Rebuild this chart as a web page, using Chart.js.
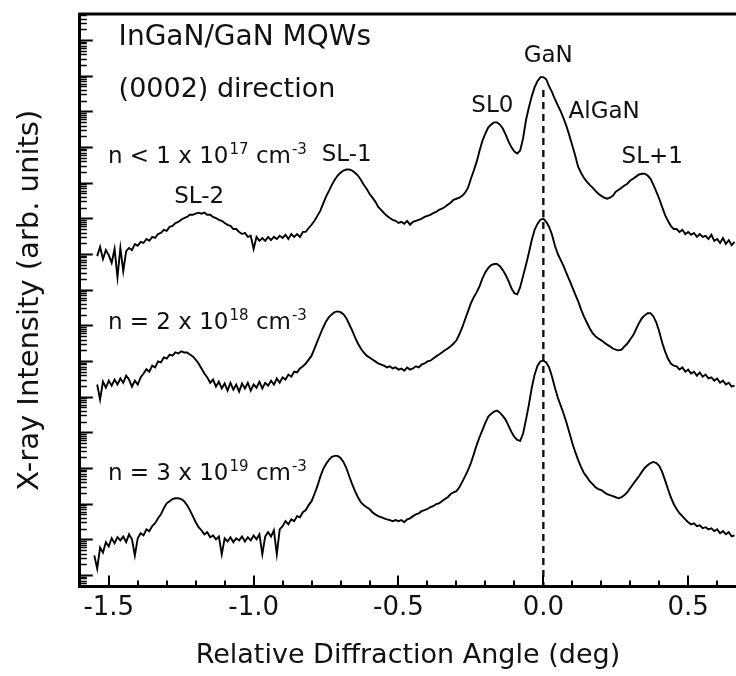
<!DOCTYPE html>
<html>
<head>
<meta charset="utf-8">
<title>XRD InGaN/GaN MQWs</title>
<script src="https://cdn.jsdelivr.net/npm/chart.js@4.4.0/dist/chart.umd.min.js"></script>
<style>
  body { margin: 0; background: #fff; }
  canvas { display: block; }
</style>
</head>
<body>
<canvas id="xrdChart" width="736" height="676"></canvas>
<script>
// Angulo relativo de difraccion (deg)
const angulos = [
  -1.55, -1.54, -1.53, -1.52, -1.51,
  -1.50, -1.49, -1.48, -1.47, -1.46, -1.45, -1.44, -1.43, -1.42, -1.41,
  -1.40, -1.39, -1.38, -1.37, -1.36, -1.35, -1.34, -1.33, -1.32, -1.31,
  -1.30, -1.29, -1.28, -1.27, -1.26, -1.25, -1.24, -1.23, -1.22, -1.21,
  -1.20, -1.19, -1.18, -1.17, -1.16, -1.15, -1.14, -1.13, -1.12, -1.11,
  -1.10, -1.09, -1.08, -1.07, -1.06, -1.05, -1.04, -1.03, -1.02, -1.01,
  -1.00, -0.99, -0.98, -0.97, -0.96, -0.95, -0.94, -0.93, -0.92, -0.91,
  -0.90, -0.89, -0.88, -0.87, -0.86, -0.85, -0.84, -0.83, -0.82, -0.81,
  -0.80, -0.79, -0.78, -0.77, -0.76, -0.75, -0.74, -0.73, -0.72, -0.71,
  -0.70, -0.69, -0.68, -0.67, -0.66, -0.65, -0.64, -0.63, -0.62, -0.61,
  -0.60, -0.59, -0.58, -0.57, -0.56, -0.55, -0.54, -0.53, -0.52, -0.51,
  -0.50, -0.49, -0.48, -0.47, -0.46, -0.45, -0.44, -0.43, -0.42, -0.41,
  -0.40, -0.39, -0.38, -0.37, -0.36, -0.35, -0.34, -0.33, -0.32, -0.31,
  -0.30, -0.29, -0.28, -0.27, -0.26, -0.25, -0.24, -0.23, -0.22, -0.21,
  -0.20, -0.19, -0.18, -0.17, -0.16, -0.15, -0.14, -0.13, -0.12, -0.11,
  -0.10, -0.09, -0.08, -0.07, -0.06, -0.05, -0.04, -0.03, -0.02, -0.01,
  0.00, 0.01, 0.02, 0.03, 0.04, 0.05, 0.06, 0.07, 0.08, 0.09,
  0.10, 0.11, 0.12, 0.13, 0.14, 0.15, 0.16, 0.17, 0.18, 0.19,
  0.20, 0.21, 0.22, 0.23, 0.24, 0.25, 0.26, 0.27, 0.28, 0.29,
  0.30, 0.31, 0.32, 0.33, 0.34, 0.35, 0.36, 0.37, 0.38, 0.39,
  0.40, 0.41, 0.42, 0.43, 0.44, 0.45, 0.46, 0.47, 0.48, 0.49,
  0.50, 0.51, 0.52, 0.53, 0.54, 0.55, 0.56, 0.57, 0.58, 0.59,
  0.60, 0.61, 0.62, 0.63, 0.64, 0.65, 0.66
];

// Intensidad en decadas (log10, unidades arbitrarias), n < 1e17 cm^-3
const curvaN17 = [
  null, 8.94, 9.20, 8.86, 9.11,
  8.97, 8.75, 9.14, 8.35, 9.17, 8.52, 9.08, 9.17, 9.11, 9.28,
  9.23, 9.34, 9.31, 9.42, 9.37, 9.48, 9.45, 9.56, 9.59, 9.68,
  9.65, 9.76, 9.79, 9.87, 9.90, 9.96, 10.01, 10.04, 10.10, 10.10,
  10.13, 10.16, 10.13, 10.16, 10.10, 10.10, 10.04, 10.01, 9.96, 9.93,
  9.87, 9.82, 9.79, 9.70, 9.70, 9.62, 9.56, 9.59, 9.48, 9.51,
  9.14, 9.48, 9.37, 9.45, 9.37, 9.48, 9.39, 9.48, 9.42, 9.51,
  9.45, 9.54, 9.42, 9.56, 9.48, 9.56, 9.48, 9.62, 9.62, 9.73,
  9.82, 9.93, 10.07, 10.21, 10.41, 10.61, 10.77, 10.94, 11.08, 11.20,
  11.28, 11.34, 11.37, 11.37, 11.34, 11.28, 11.20, 11.08, 10.94, 10.83,
  10.69, 10.58, 10.47, 10.32, 10.24, 10.15, 10.07, 10.01, 9.96, 9.93,
  9.87, 9.90, 9.85, 9.93, 9.82, 9.90, 9.93, 9.96, 9.99, 10.04,
  10.07, 10.10, 10.15, 10.18, 10.24, 10.27, 10.32, 10.38, 10.44, 10.52,
  10.55, 10.58, 10.63, 10.72, 10.86, 11.11, 11.34, 11.59, 11.90, 12.18,
  12.38, 12.55, 12.63, 12.69, 12.69, 12.63, 12.52, 12.35, 12.15, 11.99,
  11.87, 11.82, 11.90, 12.24, 12.75, 13.11, 13.42, 13.68, 13.85, 13.96,
  13.96, 13.90, 13.70, 13.54, 13.34, 13.17, 13.00, 12.80, 12.58, 12.32,
  12.04, 11.76, 11.45, 11.28, 11.14, 11.03, 10.94, 10.86, 10.77, 10.69,
  10.63, 10.58, 10.55, 10.58, 10.63, 10.75, 10.80, 10.86, 10.92, 10.97,
  11.06, 11.11, 11.17, 11.23, 11.25, 11.25, 11.20, 11.11, 10.94, 10.75,
  10.55, 10.32, 10.10, 9.93, 9.79, 9.70, 9.70, 9.62, 9.68, 9.56,
  9.62, 9.54, 9.59, 9.48, 9.56, 9.48, 9.51, 9.42, 9.54, 9.37,
  9.42, 9.31, 9.45, 9.28, 9.39, 9.25, 9.34
];

// n = 2e18 cm^-3
const curvaN18 = [
  null, 5.34, 4.92, 5.42, 5.25,
  5.45, 5.31, 5.48, 5.34, 5.51, 5.39, 5.59, 5.48, 5.28, 5.45,
  5.34, 5.54, 5.65, 5.77, 5.70, 5.87, 5.82, 5.99, 5.96, 6.10,
  6.07, 6.18, 6.15, 6.24, 6.21, 6.27, 6.24, 6.24, 6.18, 6.13,
  6.04, 5.93, 5.79, 5.65, 5.54, 5.39, 5.48, 5.28, 5.42, 5.23,
  5.37, 5.17, 5.39, 5.20, 5.34, 5.14, 5.37, 5.23, 5.39, 5.17,
  5.34, 5.25, 5.42, 5.23, 5.39, 5.31, 5.45, 5.34, 5.51, 5.39,
  5.54, 5.48, 5.62, 5.56, 5.70, 5.68, 5.79, 5.85, 5.93, 6.04,
  6.15, 6.35, 6.55, 6.75, 6.94, 7.11, 7.23, 7.31, 7.37, 7.39,
  7.37, 7.31, 7.20, 7.03, 6.86, 6.66, 6.49, 6.35, 6.24, 6.15,
  6.10, 6.04, 5.99, 5.93, 5.90, 5.87, 5.82, 5.85, 5.79, 5.82,
  5.76, 5.79, 5.73, 5.82, 5.76, 5.79, 5.85, 5.82, 5.90, 5.93,
  5.99, 6.01, 6.07, 6.13, 6.18, 6.24, 6.30, 6.35, 6.41, 6.49,
  6.58, 6.75, 6.94, 7.17, 7.39, 7.62, 7.79, 7.93, 8.10, 8.32,
  8.49, 8.61, 8.69, 8.72, 8.72, 8.66, 8.55, 8.41, 8.24, 8.04,
  7.90, 7.87, 8.07, 8.38, 8.69, 9.03, 9.39, 9.68, 9.85, 9.96,
  9.99, 9.90, 9.76, 9.54, 9.23, 9.00, 8.83, 8.66, 8.46, 8.27,
  8.07, 7.87, 7.68, 7.45, 7.25, 7.08, 6.92, 6.78, 6.69, 6.63,
  6.58, 6.52, 6.46, 6.41, 6.35, 6.32, 6.30, 6.32, 6.41, 6.49,
  6.61, 6.72, 6.89, 7.06, 7.20, 7.28, 7.34, 7.34, 7.25, 7.08,
  6.83, 6.52, 6.27, 6.07, 5.93, 5.87, 5.85, 5.76, 5.82, 5.70,
  5.76, 5.65, 5.70, 5.59, 5.68, 5.56, 5.62, 5.51, 5.54, 5.45,
  5.51, 5.39, 5.45, 5.34, 5.39, 5.28, 5.31
];

// n = 3e19 cm^-3
const curvaN19 = [
  0.55, 0.18, 0.77, 0.63, 0.92,
  0.80, 1.03, 0.89, 1.06, 0.97, 1.08, 0.92, 1.14, 1.00, 0.55,
  1.03, 1.17, 1.11, 1.28, 1.23, 1.37, 1.45, 1.59, 1.70, 1.87,
  2.01, 2.07, 2.13, 2.15, 2.15, 2.13, 2.07, 1.96, 1.82, 1.65,
  1.48, 1.34, 1.25, 1.14, 1.20, 1.06, 1.11, 1.00, 1.08, 0.58,
  1.03, 0.94, 1.06, 0.92, 1.03, 0.97, 1.08, 0.94, 1.06, 0.97,
  1.11, 1.00, 1.14, 0.58, 1.08, 1.20, 1.08, 1.25, 0.58, 1.28,
  1.37, 1.51, 1.42, 1.56, 1.51, 1.65, 1.62, 1.76, 1.82, 1.96,
  2.07, 2.27, 2.49, 2.75, 2.97, 3.11, 3.23, 3.31, 3.34, 3.34,
  3.28, 3.17, 3.00, 2.77, 2.55, 2.35, 2.18, 2.04, 1.96, 1.90,
  1.85, 1.76, 1.70, 1.65, 1.62, 1.59, 1.56, 1.54, 1.51, 1.54,
  1.51, 1.54, 1.48, 1.56, 1.59, 1.65, 1.70, 1.73, 1.79, 1.82,
  1.85, 1.90, 1.93, 1.99, 2.01, 2.07, 2.13, 2.18, 2.27, 2.32,
  2.35, 2.46, 2.61, 2.77, 2.94, 3.14, 3.39, 3.65, 3.87, 4.07,
  4.27, 4.44, 4.52, 4.58, 4.61, 4.55, 4.46, 4.35, 4.18, 4.01,
  3.87, 3.79, 3.76, 3.96, 4.35, 4.77, 5.25, 5.62, 5.87, 5.99,
  6.01, 5.96, 5.82, 5.56, 5.25, 4.97, 4.75, 4.52, 4.27, 3.99,
  3.70, 3.45, 3.23, 3.03, 2.86, 2.75, 2.63, 2.55, 2.46, 2.41,
  2.38, 2.32, 2.27, 2.24, 2.21, 2.18, 2.15, 2.18, 2.24, 2.32,
  2.44, 2.55, 2.66, 2.77, 2.89, 3.00, 3.08, 3.14, 3.17, 3.14,
  3.06, 2.89, 2.66, 2.41, 2.18, 1.99, 1.85, 1.73, 1.65, 1.56,
  1.48, 1.42, 1.45, 1.37, 1.39, 1.31, 1.34, 1.28, 1.31, 1.23,
  1.28, 1.17, 1.23, 1.14, 1.20, 1.08, 1.11
];

// Linea de referencia GaN (x = 0)
const lineaGaN = [13.6, -0.32];

// Ejes
const ticksX = [-1.5, -1.4, -1.3, -1.2, -1.1, -1.0, -0.9, -0.8, -0.7, -0.6, -0.5,
  -0.4, -0.3, -0.2, -0.1, 0.0, 0.1, 0.2, 0.3, 0.4, 0.5, 0.6];
const etiquetasX = [-1.5, -1.0, -0.5, 0.0, 0.5];
const rangoX = [-1.6, 0.665];
const rangoY = [-0.32, 15.73];
const decadas = [-1, 0, 1, 2, 3, 4, 5, 6, 7, 8, 9, 10, 11, 12, 13, 14, 15];

// Rotulos dentro de la grafica
const rotulos = [
  { texto: "InGaN/GaN MQWs", x: -1.466, y: 14.86, size: 28, align: "left" },
  { texto: "(0002) direction", x: -1.466, y: 13.39, size: 27, align: "left" },
  { texto: "SL-2", x: -1.188, y: 10.44, size: 23, align: "center" },
  { texto: "SL-1", x: -0.679, y: 11.62, size: 23, align: "center" },
  { texto: "SL0", x: -0.176, y: 12.97, size: 23, align: "center" },
  { texto: "GaN", x: 0.017, y: 14.38, size: 23, align: "center" },
  { texto: "AlGaN", x: 0.21, y: 12.8, size: 23, align: "center" },
  { texto: "SL+1", x: 0.376, y: 11.54, size: 23, align: "center" },
];
const densidades = [
  { base: "n < 1 x 10", exp: "17", x: -1.503, y: 11.56 },
  { base: "n = 2 x 10", exp: "18", x: -1.503, y: 6.89 },
  { base: "n = 3 x 10", exp: "19", x: -1.503, y: 2.66 },
];

const FUENTE = '"DejaVu Sans"';
const COLOR_TEXTO = "#111";

function puntos(valores) {
  var datos = [];
  for (var i = 0; i < angulos.length; i++) {
    if (valores[i] !== null) {
      datos.push({ x: angulos[i], y: valores[i] });
    }
  }
  return datos;
}

function esEtiqueta(valor) {
  return etiquetasX.some((e) => Math.abs(e - valor) < 1e-6);
}

// Marcas de los ejes, borde superior y textos
const decoracion = {
  id: "decoracion",
  afterDraw(chart) {
    const ctx = chart.ctx;
    const area = chart.chartArea;
    const x = chart.scales.x;
    const y = chart.scales.y;
    ctx.save();
    ctx.strokeStyle = "#000";

    // marcas log del eje y (hacia adentro)
    y.ticks.forEach((t) => {
      const py = Math.round(y.getPixelForValue(t.value)) + 0.5;
      ctx.lineWidth = t.grande ? 2 : 1.5;
      ctx.beginPath();
      ctx.moveTo(area.left, py);
      ctx.lineTo(area.left + (t.grande ? 13 : 7), py);
      ctx.stroke();
    });

    // marcas del eje x
    x.ticks.forEach((t) => {
      const px = Math.round(x.getPixelForValue(t.value));
      const largo = esEtiqueta(t.value) ? 11 : 6;
      ctx.lineWidth = 2;
      ctx.beginPath();
      ctx.moveTo(px, area.bottom);
      ctx.lineTo(px, area.bottom - largo);
      ctx.stroke();
    });

    // borde superior
    ctx.lineWidth = 3;
    ctx.beginPath();
    ctx.moveTo(area.left - 1.5, area.top);
    ctx.lineTo(area.right, area.top);
    ctx.stroke();

    ctx.fillStyle = COLOR_TEXTO;
    ctx.textBaseline = "alphabetic";
    rotulos.forEach((r) => {
      ctx.font = r.size + "px " + FUENTE;
      ctx.textAlign = r.align;
      ctx.fillText(r.texto, x.getPixelForValue(r.x), y.getPixelForValue(r.y));
    });

    ctx.textAlign = "left";
    densidades.forEach((d) => {
      let px = x.getPixelForValue(d.x);
      const py = y.getPixelForValue(d.y);
      ctx.font = "23px " + FUENTE;
      ctx.fillText(d.base, px, py);
      px += ctx.measureText(d.base).width + 1;
      ctx.font = "15px " + FUENTE;
      ctx.fillText(d.exp, px, py - 9);
      px += ctx.measureText(d.exp).width;
      ctx.font = "23px " + FUENTE;
      ctx.fillText(" cm", px, py);
      px += ctx.measureText(" cm").width + 1;
      ctx.font = "15px " + FUENTE;
      ctx.fillText("-3", px, py - 9);
    });
    ctx.restore();
  },
};

const estiloCurva = {
  borderColor: "#000",
  borderWidth: 1.9,
  pointRadius: 0,
  tension: 0,
  fill: false,
};

new Chart(document.getElementById("xrdChart"), {
  type: "line",
  data: {
    datasets: [
      Object.assign({ label: "n < 1e17", data: puntos(curvaN17) }, estiloCurva),
      Object.assign({ label: "n = 2e18", data: puntos(curvaN18) }, estiloCurva),
      Object.assign({ label: "n = 3e19", data: puntos(curvaN19) }, estiloCurva),
      {
        label: "GaN",
        data: [{ x: 0, y: lineaGaN[0] }, { x: 0, y: lineaGaN[1] }],
        borderColor: "#111",
        borderWidth: 2.4,
        borderDash: [7, 5],
        pointRadius: 0,
      },
    ],
  },
  options: {
    responsive: false,
    animation: false,
    layout: { padding: { left: 10, top: 14, right: 0, bottom: 0 } },
    plugins: { legend: { display: false }, tooltip: { enabled: false } },
    scales: {
      x: {
        type: "linear",
        min: rangoX[0],
        max: rangoX[1],
        afterBuildTicks: (scale) => {
          scale.ticks = ticksX.map((v) => ({ value: v }));
        },
        grid: { display: false, drawTicks: false },
        border: { display: true, color: "#000", width: 3 },
        ticks: {
          autoSkip: false,
          maxRotation: 0,
          padding: 6,
          color: COLOR_TEXTO,
          font: { family: FUENTE, size: 26 },
          callback: (value) => (esEtiqueta(value) ? value.toFixed(1) : ""),
        },
        title: {
          display: true,
          text: "Relative Diffraction Angle (deg)",
          color: COLOR_TEXTO,
          font: { family: FUENTE, size: 27 },
          padding: { top: 10, bottom: 4 },
        },
      },
      y: {
        type: "linear",
        min: rangoY[0],
        max: rangoY[1],
        afterBuildTicks: (scale) => {
          var marcas = [];
          decadas.forEach((k) => {
            for (var m = 1; m <= 9; m++) {
              var v = k + Math.log10(m);
              if (v >= rangoY[0] && v <= rangoY[1]) {
                marcas.push({ value: v, grande: m === 1 });
              }
            }
          });
          scale.ticks = marcas;
        },
        grid: { display: false, drawTicks: false },
        border: { display: true, color: "#000", width: 3 },
        ticks: { display: false },
        title: {
          display: true,
          text: "X-ray Intensity (arb. units)",
          color: COLOR_TEXTO,
          font: { family: FUENTE, size: 29 },
          padding: { top: 3, bottom: 32 },
        },
      },
    },
  },
  plugins: [decoracion],
});
</script>
</body>
</html>
